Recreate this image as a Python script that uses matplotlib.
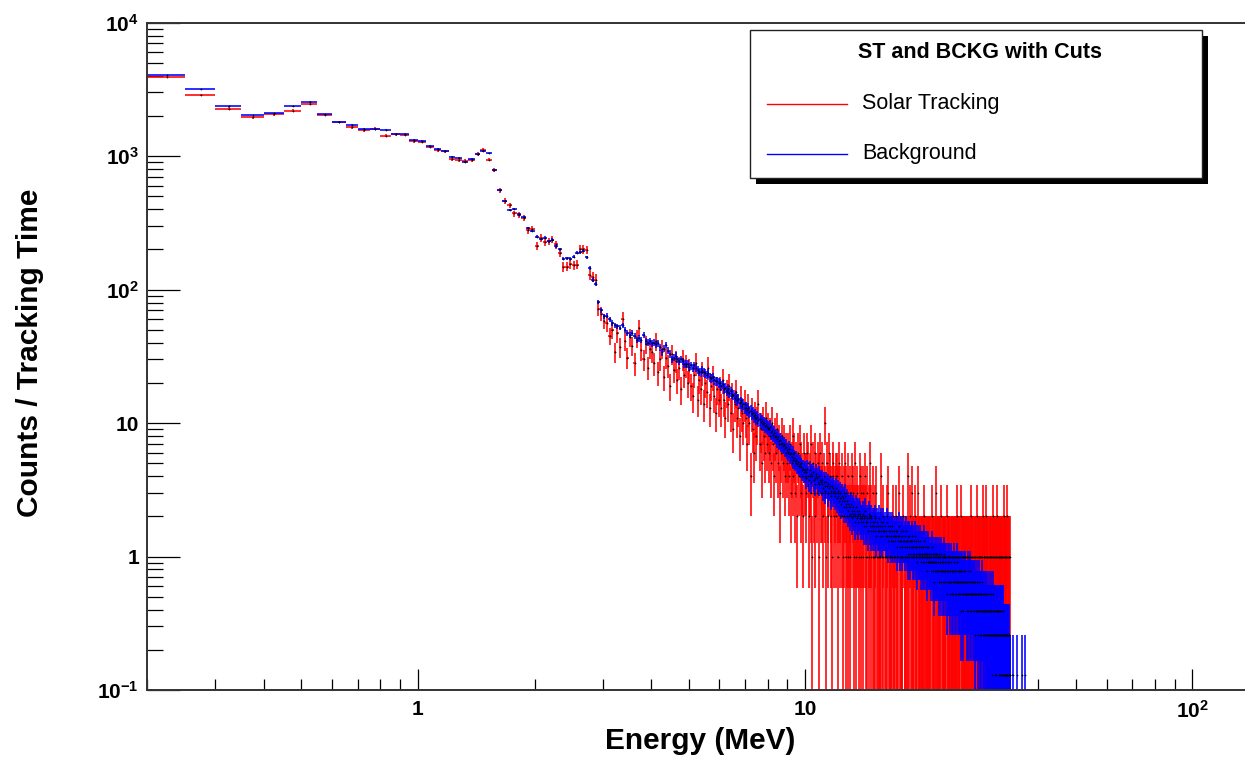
import numpy as np
import matplotlib
matplotlib.use("Agg")
import matplotlib.pyplot as plt
from matplotlib.ticker import FixedLocator, FixedFormatter, NullFormatter
from matplotlib.lines import Line2D
from matplotlib.patches import Rectangle

# ---------------- data ----------------
E_MIN = 0.2          # MeV, low edge of first bin
BIN_WIDTH = 0.05     # MeV
BKG_SCALE = 0.13     # background counts -> per tracking time

# Solar tracking raw counts per 0.05 MeV bin (0.20 ... 33.95 MeV)
st_counts = [
    3950, 2860, 2270, 1955, 2060, 2195, 2450, 2040, 1800, 1645, 1560, 1610, 1420, 1455, 1450, 1300,
    1280, 1180, 1110, 1085, 945, 930, 915, 940, 1040, 1110, 943, 785, 555, 461, 427, 372, 365, 345, 280, 285,
    212, 245, 228, 230, 237, 218, 189, 148, 149, 155, 152, 154, 202, 200, 199, 129, 125, 119, 72, 66,
    58, 56, 45, 50, 34, 47, 37, 60, 41, 31, 44, 38, 28, 43, 52, 35, 30, 39, 26, 36,
    34, 28, 41, 24, 30, 36, 22, 31, 27, 19, 33, 25, 29, 21, 26, 18, 30, 23, 27, 20,
    25, 19, 16, 23, 28, 15, 21, 18, 24, 14, 20, 17, 26, 13, 19, 22, 16, 12, 18, 15,
    18, 13, 21, 15, 11, 17, 14, 19, 12, 16, 9, 14, 17, 11, 13, 8, 15, 12, 10, 14,
    11, 7, 13, 10, 4, 12, 9, 6, 11, 8, 10, 14, 7, 9, 5, 10, 8, 6, 11, 7,
    9, 6, 8, 5, 10, 7, 4, 8, 6, 9, 5, 7, 3, 6, 8, 5, 7, 4, 6, 5,
    6, 4, 7, 3, 5, 8, 4, 6, 3, 5, 2, 6, 4, 7, 3, 5, 4, 2, 6, 4,
    4, 3, 6, 5, 2, 4, 7, 3, 1, 5, 3, 6, 2, 4, 3, 5, 1, 4, 6, 3,
    3, 5, 2, 4, 10, 3, 1, 5, 3, 2, 6, 4, 2, 3, 1, 4, 5, 2, 3, 4,
    2, 4, 1, 3, 5, 2, 3, 0, 4, 2, 1, 3, 2, 5, 1, 3, 2, 4, 1, 2,
    3, 1, 2, 4, 0, 2, 3, 1, 2, 5, 1, 2, 3, 0, 2, 1, 4, 2, 1, 3,
    2, 1, 3, 0, 2, 4, 1, 2, 1, 3, 0, 2, 1, 2, 5, 1, 2, 0, 3, 1,
    1, 0, 2, 1, 0, 3, 1, 0, 1, 1, 0, 1, 1, 0, 4, 1, 0, 2, 1, 0,
    0, 1, 1, 0, 2, 1, 0, 3, 1, 0, 1, 1, 0, 1, 0, 1, 2, 0, 1, 1,
    1, 0, 0, 2, 1, 1, 0, 1, 3, 0, 1, 0, 1, 1, 0, 1, 1, 0, 2, 0,
    0, 1, 1, 0, 1, 0, 1, 4, 0, 1, 1, 0, 2, 0, 1, 0, 3, 1, 0, 1,
    1, 0, 1, 0, 2, 1, 0, 1, 1, 0, 3, 0, 1, 1, 0, 1, 0, 1, 0, 1,
    0, 1, 1, 0, 1, 0, 2, 1, 0, 0, 1, 1, 0, 1, 1, 0, 1, 0, 1, 0,
    1, 0, 0, 1, 2, 0, 1, 0, 1, 1, 0, 1, 0, 0, 1, 3, 0, 1, 0, 1,
    0, 1, 1, 0, 0, 1, 1, 0, 2, 0, 1, 0, 1, 1, 0, 0, 1, 1, 0, 1,
    1, 0, 1, 0, 2, 0, 1, 1, 0, 0, 1, 1, 0, 1, 0, 1, 0, 1, 1, 0,
    0, 1, 0, 1, 0, 1, 1, 0, 0, 1, 0, 1, 2, 0, 1, 0, 1, 0, 0, 1,
    1, 0, 1, 0, 0, 2, 0, 1, 1, 0, 0, 1, 0, 1, 0, 1, 0, 1, 1, 0,
    0, 1, 0, 1, 1, 0, 0, 1, 0, 1, 1, 0, 0, 1, 2, 0, 1, 0, 0, 1,
    1, 0, 0, 1, 0, 1, 0, 1, 1, 0, 0, 1, 0, 0, 2, 1, 0, 1, 0, 0,
    0, 1, 1, 0, 0, 1, 1, 0, 1, 0, 0, 1, 0, 1, 0, 2, 0, 1, 1, 0,
    1, 0, 0, 1, 0, 2, 0, 1, 0, 1, 1, 0, 0, 1, 0, 0, 1, 0, 1, 0,
    0, 1, 0, 0, 1, 1, 0, 1, 0, 0, 1, 0, 2, 0, 1, 1, 0, 0, 1, 0,
    1, 0, 1, 0, 0, 1, 0, 2, 0, 1, 0, 0, 1, 1, 0, 1, 0, 1, 0, 1,
    0, 1, 0, 1, 0, 1, 0, 0, 1, 0, 2, 1, 0, 0, 1, 0, 1, 0, 1, 0,
    1, 0, 0, 1, 0, 2, 0, 1, 0, 0, 1, 0, 0, 1, 0, 1, 0, 0, 0, 0,
]

# Background raw counts per 0.05 MeV bin (0.20 ... 36.95 MeV)
bkg_counts = [
    31230, 24380, 18150, 15650, 16120, 18150, 19620, 15850, 13920, 13230, 12310, 12310, 12150, 11230, 11190, 10090,
    9923, 9192, 8692, 8385, 7600, 7462, 6969, 7308, 7962, 8385, 8077, 6038, 4269, 3546, 3023, 3077, 2815, 2685, 2223, 2108,
    1915, 1846, 1885, 1769, 1823, 1631, 1538, 1315, 1322, 1308, 1354, 1454, 1469, 1508, 1346, 1115, 915, 846, 623, 538,
    485, 492, 462, 431, 415, 408, 400, 415, 385, 362, 354, 362, 346, 323, 331, 323, 354, 315, 308, 315,
    304, 308, 300, 304, 285, 262, 277, 296, 269, 254, 231, 238, 246, 231, 223, 231, 223, 215, 212, 215,
    203, 208, 200, 208, 200, 192, 187, 185, 192, 185, 181, 177, 181, 169, 166, 169, 162, 158, 158, 154,
    153, 146, 150, 139, 142, 134, 138, 130, 133, 127, 125, 119, 122, 114, 117, 108, 111, 104, 107, 100,
    100, 97, 99, 93, 95, 90, 92, 87, 88, 84, 86, 81, 82, 78, 80, 76, 77, 73, 75, 72,
    71, 69, 72, 66, 67, 63, 65, 61, 62, 58, 60, 56, 57, 54, 55, 52, 53, 50, 51, 48,
    47, 49, 45, 46, 43, 45, 41, 42, 40, 41, 38, 39, 37, 38, 36, 36, 34, 35, 33, 34,
    33, 30, 35, 31, 29, 34, 32, 28, 31, 33, 29, 30, 27, 32, 30, 28, 31, 27, 29, 28,
    27, 29, 25, 28, 26, 24, 28, 26, 23, 27, 25, 26, 24, 22, 26, 25, 23, 24, 22, 25,
    23, 21, 24, 22, 20, 23, 21, 19, 22, 20, 21, 18, 20, 22, 19, 18, 20, 17, 19, 18,
    18, 16, 19, 17, 15, 18, 16, 17, 14, 16, 18, 15, 17, 16, 14, 17, 15, 16, 14, 15,
    15, 14, 16, 13, 15, 17, 14, 13, 15, 14, 12, 15, 16, 13, 14, 12, 15, 13, 14, 12,
    13, 14, 12, 15, 13, 11, 14, 12, 13, 15, 12, 11, 13, 14, 12, 13, 11, 12, 14, 12,
    12, 13, 11, 12, 14, 11, 10, 13, 12, 11, 12, 13, 10, 11, 12, 13, 11, 10, 12, 11,
    11, 10, 12, 11, 9, 12, 11, 10, 11, 13, 10, 9, 11, 12, 10, 11, 9, 10, 12, 10,
    10, 11, 9, 10, 12, 9, 10, 8, 11, 10, 9, 11, 10, 8, 10, 9, 11, 9, 10, 8,
    9, 10, 8, 9, 11, 8, 9, 10, 7, 9, 8, 10, 9, 8, 9, 10, 8, 7, 9, 8,
    9, 8, 7, 9, 8, 10, 7, 8, 9, 7, 8, 9, 6, 8, 7, 9, 8, 7, 8, 7,
    7, 8, 6, 7, 9, 7, 6, 8, 7, 5, 7, 8, 6, 7, 8, 6, 7, 6, 8, 6,
    7, 6, 8, 5, 7, 6, 7, 8, 6, 5, 7, 6, 7, 5, 6, 8, 6, 5, 7, 6,
    6, 5, 7, 6, 4, 6, 7, 5, 6, 5, 7, 6, 4, 6, 5, 7, 5, 6, 4, 6,
    5, 6, 4, 6, 5, 7, 5, 4, 6, 5, 6, 4, 5, 7, 5, 4, 6, 5, 4, 6,
    5, 4, 6, 5, 3, 5, 6, 4, 5, 6, 4, 5, 3, 5, 6, 4, 5, 4, 6, 4,
    4, 5, 3, 5, 4, 6, 4, 3, 5, 4, 5, 3, 4, 6, 4, 5, 3, 4, 5, 4,
    4, 3, 5, 4, 3, 5, 4, 4, 2, 4, 5, 3, 4, 3, 5, 4, 3, 4, 2, 4,
    3, 4, 3, 5, 2, 4, 3, 4, 3, 2, 4, 3, 5, 3, 2, 4, 3, 3, 4, 2,
    3, 2, 4, 3, 3, 2, 4, 3, 2, 3, 4, 2, 3, 3, 2, 4, 3, 2, 3, 2,
    3, 2, 3, 4, 2, 3, 2, 3, 1, 3, 2, 4, 2, 3, 2, 3, 2, 1, 3, 2,
    2, 3, 2, 1, 3, 2, 3, 2, 2, 3, 3, 2, 2, 3, 1, 2, 3, 2, 1, 3,
    2, 1, 3, 2, 2, 1, 2, 3, 1, 3, 2, 1, 2, 2, 1, 2, 1, 2, 2, 1,
    1, 2, 1, 2, 1, 2, 2, 0, 1, 2, 1, 1, 0, 2, 1, 1, 0, 0, 0, 0,
    0, 0, 0, 0, 0, 0, 1, 0, 0, 0, 0, 0, 0, 0, 0, 0, 0, 0, 0, 0,
    0, 0, 0, 0, 1, 0, 0, 0, 0, 0, 0, 0, 0, 0, 0, 0, 0, 0, 0, 0,
    0, 0, 0, 0, 1, 0, 0, 0, 0, 0, 0, 0, 0, 0, 0, 0, 0, 1, 0, 0,
]

series_labels = ["Solar Tracking", "Background"]
series_colors = ["#ff0000", "#0000ff"]
legend_title = "ST and BCKG with Cuts"
x_label = "Energy (MeV)"
y_label = "Counts / Tracking Time"
x_major_ticks = [1, 10, 100]
x_major_labels = ["1", "10", r"$10^{2}$"]
y_major_ticks = [0.1, 1, 10, 100, 1000, 10000]
y_major_labels = [r"$10^{-1}$", "1", "10", r"$10^{2}$", r"$10^{3}$", r"$10^{4}$"]
X_RANGE = (0.2, 136.7)
Y_RANGE = (0.1, 10000)

# ---------------- style ----------------
plt.rcParams['font.family'] = ['Liberation Sans', 'DejaVu Sans']
plt.rcParams['mathtext.fontset'] = 'custom'
plt.rcParams['mathtext.rm'] = 'Liberation Sans:bold'
plt.rcParams['mathtext.bf'] = 'Liberation Sans:bold'
plt.rcParams['mathtext.it'] = 'Liberation Sans:bold:italic'
plt.rcParams['mathtext.sf'] = 'Liberation Sans:bold'
plt.rcParams['mathtext.default'] = 'rm'

W, H = 1245, 759
fig = plt.figure(figsize=(W / 100, H / 100), dpi=100)

def fx(px):
    return px / W

def fy(py):
    return 1 - py / H

ax_left, ax_top, ax_bottom = 147.3, 22.7, 690.0
ax = fig.add_axes([fx(ax_left), fy(ax_bottom), 1 - fx(ax_left), (ax_bottom - ax_top) / H])
ax.set_xscale('log')
ax.set_yscale('log', nonpositive='clip')
ax.set_xlim(*X_RANGE)
ax.set_ylim(*Y_RANGE)


def hist_arrays(counts, scale):
    c = np.asarray(counts, dtype=float)
    centers = E_MIN + BIN_WIDTH * (np.arange(len(c)) + 0.5)
    vals = c * scale
    errs = np.sqrt(c) * scale
    m = c > 0
    centers, vals, errs = centers[m], vals[m], errs[m]
    lower = np.minimum(errs, vals - 1e-4)
    return centers, vals, lower, errs


sets = [hist_arrays(st_counts, 1.0), hist_arrays(bkg_counts, BKG_SCALE)]
for (xc, v, lo, hi), col, z in zip(sets, series_colors, [2, 3]):
    ax.errorbar(xc, v, xerr=BIN_WIDTH / 2, yerr=[lo, hi], fmt='none',
                ecolor=col, elinewidth=1.15, capsize=0, zorder=z)
for (xc, v, lo, hi) in sets:
    ax.plot(xc, v, ls='none', marker='+', ms=1.8, mew=0.5, color='black', zorder=4)

# axes decorations (ROOT-like)
for side in ['left', 'bottom', 'top']:
    ax.spines[side].set_linewidth(1.4)
    ax.spines[side].set_color('#333333')
    ax.spines[side].set_zorder(6)
ax.spines['right'].set_visible(False)

ax.xaxis.set_major_locator(FixedLocator(x_major_ticks))
ax.xaxis.set_major_formatter(FixedFormatter(x_major_labels))
x_minor = [m * 10.0 ** d for d in (-1, 0, 1) for m in range(2, 10)]
ax.xaxis.set_minor_locator(FixedLocator(x_minor))
ax.xaxis.set_minor_formatter(NullFormatter())

ax.yaxis.set_major_locator(FixedLocator(y_major_ticks))
ax.yaxis.set_major_formatter(FixedFormatter(y_major_labels))
y_minor = [m * 10.0 ** d for d in (-1, 0, 1, 2, 3) for m in range(2, 10)]
ax.yaxis.set_minor_locator(FixedLocator(y_minor))
ax.yaxis.set_minor_formatter(NullFormatter())

ax.tick_params(axis='x', which='major', direction='in', length=15, width=0.9,
               color='black', pad=7, labelsize=15, top=False)
ax.tick_params(axis='x', which='minor', direction='in', length=8, width=0.9,
               color='black', top=False)
ax.tick_params(axis='y', which='major', direction='in', length=23.5, width=0.9,
               color='black', pad=6, labelsize=15, right=False)
ax.tick_params(axis='y', which='minor', direction='in', length=11.5, width=0.9,
               color='black', right=False)
for lab in ax.get_xticklabels() + ax.get_yticklabels():
    lab.set_fontweight('bold')

# axis titles
fig.text(fx(700), fy(741), x_label, ha='center', va='center',
         fontsize=21.5, fontweight='bold')
fig.text(fx(30), fy(353), y_label, ha='center', va='center', rotation=90,
         fontsize=21.5, fontweight='bold')

# legend box with shadow
bx0, by0, bx1, by1 = 750, 30, 1202, 177.5
shadow = Rectangle((fx(bx0 + 6), fy(by1 + 6)), fx(bx1 - bx0), (by1 - by0) / H,
                   transform=fig.transFigure, facecolor='black', edgecolor='black',
                   lw=0, zorder=10)
box = Rectangle((fx(bx0), fy(by1)), fx(bx1 - bx0), (by1 - by0) / H,
                transform=fig.transFigure, facecolor='white', edgecolor='#222222',
                lw=1.0, zorder=11)
fig.add_artist(shadow)
fig.add_artist(box)
fig.text(fx(980), fy(52), legend_title, ha='center', va='center',
         fontsize=15.5, fontweight='bold', zorder=12)
for lab, col, yy in zip(series_labels, series_colors, [104, 154]):
    fig.add_artist(Line2D([fx(767), fx(847)], [fy(yy), fy(yy)], color=col,
                          lw=1.0, transform=fig.transFigure, zorder=12))
    fig.text(fx(862), fy(yy - 1), lab, ha='left', va='center',
             fontsize=15.5, zorder=12)

fig.savefig('out.png', dpi=100)
